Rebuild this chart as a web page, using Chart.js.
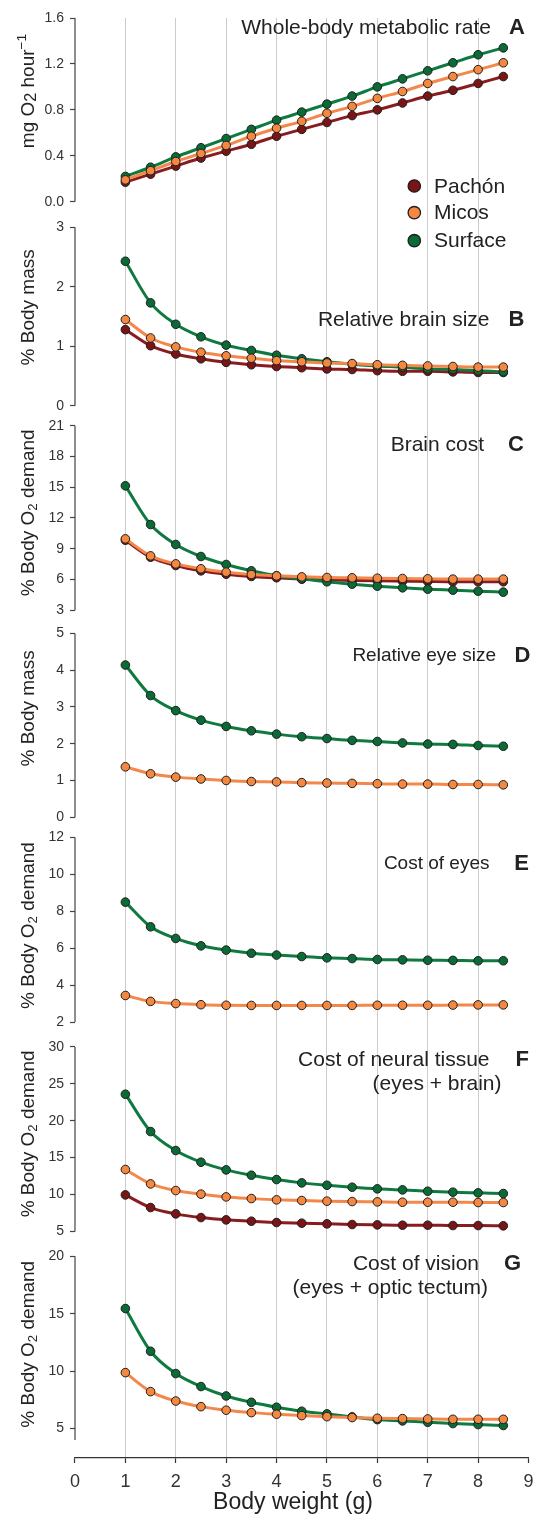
<!DOCTYPE html>
<html>
<head>
<meta charset="utf-8">
<script src="https://cdn.jsdelivr.net/npm/chart.js@4.4.1/dist/chart.umd.min.js"></script>
<style>
  html, body { margin: 0; padding: 0; background: #fff; }
  #wrap { position: relative; width: 535px; height: 1514px; }
</style>
</head>
<body>
<div id="wrap"><canvas id="chart"></canvas></div>
<script>
// shared x values (body weight, g)
const bodyWeight = [1, 1.5, 2, 2.5, 3, 3.5, 4, 4.5, 5, 5.5, 6, 6.5, 7, 7.5, 8, 8.5];
const xTicks = [0, 1, 2, 3, 4, 5, 6, 7, 8, 9];
const species = ['Pachón', 'Micos', 'Surface'];

// A - whole-body metabolic rate
const metabolicPachon  = [0.17, 0.24, 0.31, 0.38, 0.44, 0.50, 0.57, 0.63, 0.69, 0.75, 0.80, 0.86, 0.92, 0.97, 1.03, 1.09];
const metabolicMicos   = [0.19, 0.27, 0.35, 0.42, 0.49, 0.57, 0.64, 0.70, 0.77, 0.83, 0.90, 0.96, 1.03, 1.09, 1.15, 1.21];
const metabolicSurface = [0.22, 0.30, 0.39, 0.47, 0.55, 0.63, 0.71, 0.78, 0.85, 0.92, 1.00, 1.07, 1.14, 1.21, 1.28, 1.34];
const ticksA = [0, 0.4, 0.8, 1.2, 1.6];

// B - relative brain size
const brainPachon  = [1.28, 1.01, 0.87, 0.79, 0.73, 0.69, 0.66, 0.64, 0.62, 0.61, 0.59, 0.58, 0.58, 0.57, 0.56, 0.56];
const brainMicos   = [1.45, 1.14, 0.99, 0.90, 0.84, 0.80, 0.76, 0.74, 0.72, 0.71, 0.69, 0.68, 0.67, 0.66, 0.65, 0.65];
const brainSurface = [2.43, 1.73, 1.37, 1.16, 1.02, 0.93, 0.85, 0.79, 0.74, 0.70, 0.67, 0.65, 0.62, 0.61, 0.59, 0.57];
const ticksB = [0, 1, 2, 3];

// C - brain cost
const brainCostPachon  = [9.83, 8.17, 7.36, 6.84, 6.51, 6.29, 6.16, 6.03, 5.96, 5.90, 5.86, 5.83, 5.80, 5.77, 5.77, 5.77];
const brainCostMicos   = [9.96, 8.30, 7.52, 7.04, 6.71, 6.48, 6.35, 6.25, 6.19, 6.16, 6.12, 6.09, 6.06, 6.03, 6.03, 6.03];
const brainCostSurface = [15.14, 11.36, 9.41, 8.24, 7.46, 6.84, 6.35, 6.06, 5.77, 5.54, 5.34, 5.18, 5.05, 4.95, 4.85, 4.76];
const ticksC = [3, 6, 9, 12, 15, 18, 21];

// D - relative eye size
const eyeMicos   = [1.37, 1.18, 1.09, 1.04, 1.00, 0.97, 0.96, 0.94, 0.93, 0.92, 0.91, 0.90, 0.90, 0.89, 0.89, 0.88];
const eyeSurface = [4.14, 3.31, 2.90, 2.64, 2.47, 2.35, 2.26, 2.19, 2.14, 2.09, 2.06, 2.02, 1.99, 1.98, 1.95, 1.93];
const ticksD = [0, 1, 2, 3, 4, 5];

// E - cost of eyes
const eyeCostMicos   = [3.44, 3.12, 3.00, 2.94, 2.91, 2.90, 2.90, 2.90, 2.90, 2.90, 2.91, 2.91, 2.91, 2.92, 2.93, 2.93];
const eyeCostSurface = [8.50, 7.16, 6.53, 6.13, 5.90, 5.73, 5.63, 5.55, 5.48, 5.44, 5.39, 5.37, 5.35, 5.34, 5.32, 5.32];
const ticksE = [2, 4, 6, 8, 10, 12];

// F - cost of neural tissue
const neuralPachon  = [9.95, 8.24, 7.38, 6.88, 6.57, 6.39, 6.21, 6.12, 6.03, 5.94, 5.89, 5.85, 5.85, 5.80, 5.80, 5.76];
const neuralMicos   = [13.39, 11.44, 10.54, 10.05, 9.68, 9.46, 9.28, 9.19, 9.10, 9.05, 9.01, 8.96, 8.96, 8.96, 8.92, 8.92];
const neuralSurface = [23.59, 18.53, 15.96, 14.38, 13.34, 12.62, 12.03, 11.58, 11.26, 10.99, 10.77, 10.63, 10.45, 10.32, 10.23, 10.14];
const ticksF = [5, 10, 15, 20, 25, 30];

// G - cost of vision
const visionMicos   = [9.87, 8.22, 7.40, 6.91, 6.60, 6.39, 6.25, 6.13, 6.04, 5.96, 5.90, 5.87, 5.84, 5.81, 5.81, 5.81];
const visionSurface = [15.45, 11.73, 9.79, 8.66, 7.84, 7.29, 6.86, 6.51, 6.28, 6.02, 5.78, 5.67, 5.55, 5.44, 5.35, 5.27];
const ticksG = [5, 10, 15, 20];

const FONT = '"Liberation Sans", Arial, sans-serif';
const colors = {
    'Pachón':  { line: '#8a1b1e', point: '#7b1416' },
    'Micos':   { line: '#f4874a', point: '#f48840' },
    'Surface': { line: '#0f7a40', point: '#0a6b37' }
};

const O2 = [['% Body O'], ['2', 0.7, 4], [' demand']];

// panel layout (stack bands, axis ranges, labels)
const panels = [
    { id: 'yA', band: 196.5, range: [-0.112, 1.6], axis: [0, 1.6], ticks: ticksA, decimals: 1,
      series: { 'Micos': metabolicMicos, 'Surface': metabolicSurface, 'Pachón': metabolicPachon },
      yTitle: [['mg O'], ['2', 0.85, 3], [' hour'], ['\u22121', 0.72, -7]], yTitleDy: 73,
      size: 21, lines: [['Whole-body metabolic rate', 491, 10]], letter: ['A', 525, 10] },
    { id: 'yB', band: 201.2, range: [-0.168, 3.215], axis: [0, 3], ticks: ticksB,
      series: { 'Micos': brainMicos, 'Surface': brainSurface, 'Pachón': brainPachon },
      yTitle: [['% Body mass']], yTitleDy: 80,
      size: 21, lines: [['Relative brain size', 489.5, 93]], letter: ['B', 524.5, 93] },
    { id: 'yC', band: 206, range: [1.86, 21.98], axis: [3, 21], ticks: ticksC,
      series: { 'Micos': brainCostMicos, 'Surface': brainCostSurface, 'Pachón': brainCostPachon },
      yTitle: O2, yTitleDy: 87,
      size: 21, lines: [['Brain cost', 484, 19]], letter: ['C', 524, 19] },
    { id: 'yD', band: 205.3, range: [-0.272, 5.316], axis: [0, 5], ticks: ticksD,
      series: { 'Micos': eyeMicos, 'Surface': eyeSurface },
      yTitle: [['% Body mass']], yTitleDy: 75,
      size: 19, lines: [['Relative eye size', 496, 22]], letter: ['D', 530.5, 22] },
    { id: 'yE', band: 207.2, range: [1.33, 12.56], axis: [2, 12], ticks: ticksE,
      series: { 'Micos': eyeCostMicos, 'Surface': eyeCostSurface },
      yTitle: O2, yTitleDy: 88,
      size: 19, lines: [['Cost of eyes', 489.5, 26]], letter: ['E', 529, 26] },
    { id: 'yF', band: 209.4, range: [3.32, 31.69], axis: [5, 30], ticks: ticksF,
      series: { 'Micos': neuralMicos, 'Surface': neuralSurface, 'Pachón': neuralPachon },
      yTitle: O2, yTitleDy: 87,
      size: 21, lines: [['Cost of neural tissue', 489.5, 13], ['(eyes + brain)', 501.5, 37]], letter: ['F', 529, 13] },
    { id: 'yG', band: 214.1, range: [2.44, 21.08], axis: [4, 20], ticks: ticksG,
      series: { 'Micos': visionMicos, 'Surface': visionSurface },
      yTitle: O2, yTitleDy: 88,
      size: 21, lines: [['Cost of vision', 479, 8], ['(eyes + optic tectum)', 488, 32]], letter: ['G', 521, 8] }
];

// datasets: Micos first so it sits on top
const datasets = [];
panels.forEach(p => {
    Object.keys(p.series).forEach(sp => {
        const vals = p.series[sp];
        datasets.push({
            label: sp,
            yAxisID: p.id,
            data: bodyWeight.map((x, i) => ({ x: x, y: vals[i] })),
            borderColor: colors[sp].line,
            backgroundColor: colors[sp].point,
            pointBackgroundColor: colors[sp].point,
            pointBorderColor: '#1e1e1e',
            pointBorderWidth: 1,
            pointRadius: 4.3,
            borderWidth: 3,
            cubicInterpolationMode: 'monotone',
            clip: false
        });
    });
});

const scales = {
    x: {
        type: 'linear', position: 'bottom', min: 0, max: 9,
        afterBuildTicks: s => { s.ticks = xTicks.map(v => ({ value: v })); },
        afterFit: s => { s.height = 56; s.paddingLeft = 0; s.paddingRight = 0; },
        grid: {
            color: c => (c.tick && c.tick.value >= 1 && c.tick.value <= 8) ? '#cccccc' : 'rgba(0,0,0,0)',
            lineWidth: 1, tickColor: '#333', tickLength: 5, tickWidth: 1.2
        },
        border: { color: '#333', width: 1.3 },
        ticks: { font: { family: FONT, size: 18 }, color: '#333', padding: 8, maxRotation: 0, autoSkip: false }
    }
};
panels.forEach((p, idx) => {
    scales[p.id] = {
        type: 'linear', position: 'left', stack: 'panels', stackWeight: p.band,
        weight: panels.length - idx,
        min: p.range[0], max: p.range[1],
        afterBuildTicks: s => { s.ticks = p.ticks.map(v => ({ value: v })); },
        afterFit: s => { s.width = 75; },
        grid: { display: true, drawOnChartArea: false, drawTicks: true, tickLength: 5, tickColor: '#444', tickWidth: 1.2 },
        border: { display: false },
        ticks: {
            font: { family: FONT, size: 14 }, color: '#333', padding: 6, autoSkip: false,
            callback: v => p.decimals ? v.toFixed(p.decimals) : String(v)
        }
    };
});

function drawRich(ctx, parts, size) {
    let total = 0;
    parts.forEach(([t, s]) => {
        ctx.font = `${size * (s || 1)}px ${FONT}`;
        total += ctx.measureText(t).width;
    });
    let x = -total / 2;
    parts.forEach(([t, s, dy]) => {
        ctx.font = `${size * (s || 1)}px ${FONT}`;
        ctx.fillText(t, x, dy || 0);
        x += ctx.measureText(t).width;
    });
}

const panelDecor = {
    id: 'panelDecor',
    afterDraw(chart) {
        const ctx = chart.ctx;
        ctx.save();
        panels.forEach(p => {
            const s = chart.scales[p.id];
            const yTop = s.getPixelForValue(p.axis[1]);
            const yBot = s.getPixelForValue(p.axis[0]);

            // axis line only over the ticked range
            ctx.strokeStyle = '#444';
            ctx.lineWidth = 1.2;
            ctx.beginPath();
            ctx.moveTo(s.right, yTop);
            ctx.lineTo(s.right, yBot);
            ctx.stroke();

            // y title (rotated)
            ctx.fillStyle = '#222';
            ctx.textAlign = 'left';
            ctx.textBaseline = 'middle';
            ctx.save();
            ctx.translate(29, yTop + p.yTitleDy);
            ctx.rotate(-Math.PI / 2);
            drawRich(ctx, p.yTitle, 19);
            ctx.restore();

            // panel title and letter
            ctx.textAlign = 'right';
            ctx.font = `${p.size}px ${FONT}`;
            p.lines.forEach(([text, x, dy]) => ctx.fillText(text, x, yTop + dy));
            ctx.font = `bold 22px ${FONT}`;
            ctx.fillText(p.letter[0], p.letter[1], yTop + p.letter[2]);
        });

        // x axis title
        ctx.textAlign = 'center';
        ctx.font = `23px ${FONT}`;
        ctx.fillStyle = '#222';
        ctx.fillText('Body weight (g)', 293, 1502.5);

        // legend
        const legendY = [186, 212.7, 240.7];
        species.forEach((sp, i) => {
            ctx.beginPath();
            ctx.arc(414.3, legendY[i], 6.2, 0, Math.PI * 2);
            ctx.fillStyle = colors[sp].point;
            ctx.fill();
            ctx.lineWidth = 1.3;
            ctx.strokeStyle = '#1e1e1e';
            ctx.stroke();
            ctx.fillStyle = '#222';
            ctx.textAlign = 'left';
            ctx.font = `21px ${FONT}`;
            ctx.fillText(sp, 434, legendY[i] + 1);
        });
        ctx.restore();
    }
};

new Chart(document.getElementById('chart'), {
    type: 'line',
    data: { datasets: datasets },
    options: {
        responsive: true,
        maintainAspectRatio: false,
        animation: false,
        devicePixelRatio: 1,
        layout: { padding: { top: 18, right: 6.5, bottom: 0, left: 0 } },
        plugins: { legend: { display: false }, tooltip: { enabled: false } },
        scales: scales
    },
    plugins: [panelDecor]
});
</script>
</body>
</html>
